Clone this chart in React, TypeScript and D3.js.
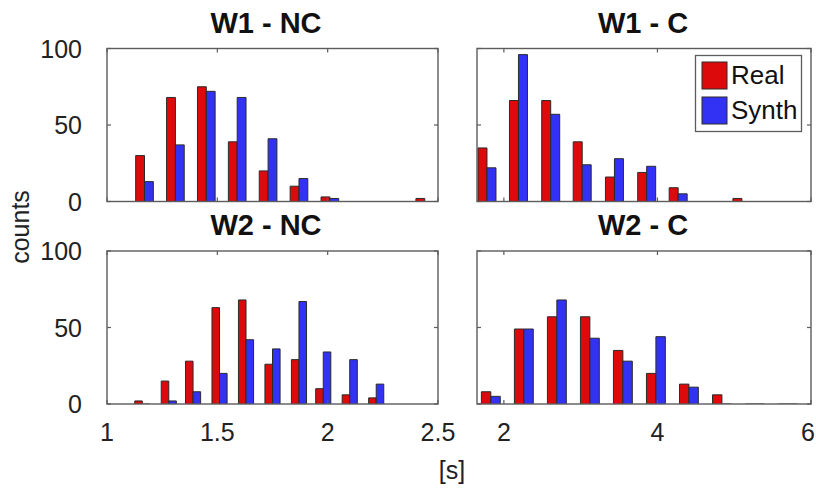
import React from "react";
import * as d3 from "d3";

// ---- data ----
const centersW1NC = [1.17, 1.31, 1.45, 1.59, 1.73, 1.87, 2.01, 2.16, 2.30, 2.44];
const realW1NC = [30, 68, 75, 39, 20, 10, 3, 0, 0, 2];
const synthW1NC = [13, 37, 72, 68, 41, 15, 2, 0, 0, 0];

const centersW1C = [1.78, 2.19, 2.61, 3.02, 3.44, 3.86, 4.27, 4.69, 5.10, 5.52];
const realW1C = [35, 66, 66, 39, 16, 19, 9, 0, 2, 0];
const synthW1C = [22, 96, 57, 24, 28, 23, 5, 0, 0, 0];

const centersW2NC = [1.16, 1.28, 1.39, 1.51, 1.63, 1.75, 1.87, 1.98, 2.10, 2.22];
const realW2NC = [2, 15, 28, 63, 68, 26, 29, 10, 6, 4];
const synthW2NC = [0, 2, 8, 20, 42, 36, 67, 34, 29, 13];

const centersW2C = [1.83, 2.26, 2.69, 3.12, 3.55, 3.98, 4.41, 4.84, 5.27, 5.70];
const realW2C = [8, 49, 57, 57, 35, 20, 13, 6, 0, 0];
const synthW2C = [5, 49, 68, 43, 28, 44, 11, 0, 0, 0];

const titles = ["W1 - NC", "W1 - C", "W2 - NC", "W2 - C"];
const seriesNames = ["Real", "Synth"];
const yTicks = [0, 50, 100];
const xTicksNC = [1, 1.5, 2, 2.5];
const xTicksC = [2, 4, 6];
const xTickLabelsNC = ["1", "1.5", "2", "2.5"];
const xTickLabelsC = ["2", "4", "6"];

const RED = "#dc0a0a";
const BLUE = "#3232f5";
const EDGE = "#2b2b2b";
const AX = "#5c5c5c";
const FONT = "'Liberation Sans', Arial, Helvetica, sans-serif";

type Panel = {
  title: string;
  titleX: number;
  centers: number[];
  real: number[];
  synth: number[];
  x0: number;
  x1: number;
  y0: number;
  y1: number;
  domain: [number, number];
  ticks: number[];
  tickLabels: string[];
  showXLabels: boolean;
  showYLabels: boolean;
  legend: boolean;
};

const panels: Panel[] = [
  { title: titles[0], titleX: 266, centers: centersW1NC, real: realW1NC, synth: synthW1NC, x0: 107, x1: 438, y0: 48.5, y1: 201.5, domain: [1, 2.5], ticks: xTicksNC, tickLabels: xTickLabelsNC, showXLabels: false, showYLabels: true, legend: false },
  { title: titles[1], titleX: 643, centers: centersW1C, real: realW1C, synth: synthW1C, x0: 477, x1: 811, y0: 48.5, y1: 201.5, domain: [1.65, 6], ticks: xTicksC, tickLabels: xTickLabelsC, showXLabels: false, showYLabels: false, legend: true },
  { title: titles[2], titleX: 266, centers: centersW2NC, real: realW2NC, synth: synthW2NC, x0: 107, x1: 438, y0: 251, y1: 404, domain: [1, 2.5], ticks: xTicksNC, tickLabels: xTickLabelsNC, showXLabels: true, showYLabels: true, legend: false },
  { title: titles[3], titleX: 643, centers: centersW2C, real: realW2C, synth: synthW2C, x0: 477, x1: 811, y0: 251, y1: 404, domain: [1.65, 6], ticks: xTicksC, tickLabels: xTickLabelsC, showXLabels: true, showYLabels: false, legend: false },
];

function barPath(xa: number, xb: number, yBase: number, yTop: number) {
  return `M${xa},${yBase}V${yTop}H${xb}V${yBase}`;
}

function PanelView({ p, idx }: { p: Panel; idx: number }) {
  const x = d3.scaleLinear().domain(p.domain).range([p.x0, p.x1]);
  const y = d3.scaleLinear().domain([0, 100]).range([p.y1, p.y0]);
  const spacing = Math.abs(x(p.centers[1]) - x(p.centers[0]));
  const bw = spacing * 0.2857;
  const clipId = `clip${idx}`;
  const tl = 4;
  return (
    <g>
      <defs>
        <clipPath id={clipId}>
          <rect x={p.x0} y={p.y0 - 2} width={p.x1 - p.x0} height={p.y1 - p.y0 + 2} />
        </clipPath>
      </defs>
      <text x={p.titleX} y={p.y0 - 16} textAnchor="middle" fontFamily={FONT} fontWeight="bold" fontSize={29} fill="#111">
        {p.title}
      </text>
      <g clipPath={`url(#${clipId})`}>
        {p.centers.map((c, i) => {
          const cx = x(c);
          return (
            <g key={i}>
              <path d={barPath(cx - bw, cx, y(0), y(p.real[i]))} fill={RED} stroke={EDGE} strokeWidth={1} />
              <path d={barPath(cx, cx + bw, y(0), y(p.synth[i]))} fill={BLUE} stroke={EDGE} strokeWidth={1} />
            </g>
          );
        })}
      </g>
      {/* box */}
      <rect x={p.x0} y={p.y0} width={p.x1 - p.x0} height={p.y1 - p.y0} fill="none" stroke={AX} strokeWidth={1.4} />
      {/* x ticks (inner, top and bottom) */}
      {p.ticks.map((t, i) => (
        <g key={"xt" + i}>
          <line x1={x(t)} x2={x(t)} y1={p.y1} y2={p.y1 - tl} stroke={AX} strokeWidth={1.2} />
          <line x1={x(t)} x2={x(t)} y1={p.y0} y2={p.y0 + tl} stroke={AX} strokeWidth={1.2} />
          {p.showXLabels && (
            <text x={Math.min(x(t), 808)} y={p.y1 + 37} textAnchor="middle" fontFamily={FONT} fontSize={25} fill="#222">
              {p.tickLabels[i]}
            </text>
          )}
        </g>
      ))}
      {/* y ticks */}
      {yTicks.map((t, i) => (
        <g key={"yt" + i}>
          <line x1={p.x0} x2={p.x0 + tl} y1={y(t)} y2={y(t)} stroke={AX} strokeWidth={1.2} />
          <line x1={p.x1} x2={p.x1 - tl} y1={y(t)} y2={y(t)} stroke={AX} strokeWidth={1.2} />
          {p.showYLabels && (
            <text x={82} y={y(t) + 9} textAnchor="end" fontFamily={FONT} fontSize={25} fill="#222">
              {String(t)}
            </text>
          )}
        </g>
      ))}
      {p.legend && (
        <g>
          <rect x={695.5} y={55.5} width={106} height={76} fill="#fff" stroke={AX} strokeWidth={1.3} />
          {seriesNames.map((s, i) => (
            <g key={s}>
              <rect x={702} y={62 + i * 35} width={25} height={27} fill={i === 0 ? RED : BLUE} stroke={EDGE} strokeWidth={1} />
              <text x={731} y={84 + i * 35} fontFamily={FONT} fontSize={26} fill="#111">
                {s}
              </text>
            </g>
          ))}
        </g>
      )}
    </g>
  );
}

export default function App() {
  return (
    <svg width={816} height={489} style={{ position: "absolute", left: 0, top: 0, background: "#fff" }}>
      <rect x={0} y={0} width={816} height={489} fill="#fff" />
      {panels.map((p, i) => (
        <PanelView key={i} p={p} idx={i} />
      ))}
      <text transform="translate(29,227) rotate(-90)" textAnchor="middle" fontFamily={FONT} fontSize={25} fill="#222">
        counts
      </text>
      <text x={452} y={479} textAnchor="middle" fontFamily={FONT} fontSize={25} fill="#222">
        [s]
      </text>
    </svg>
  );
}
